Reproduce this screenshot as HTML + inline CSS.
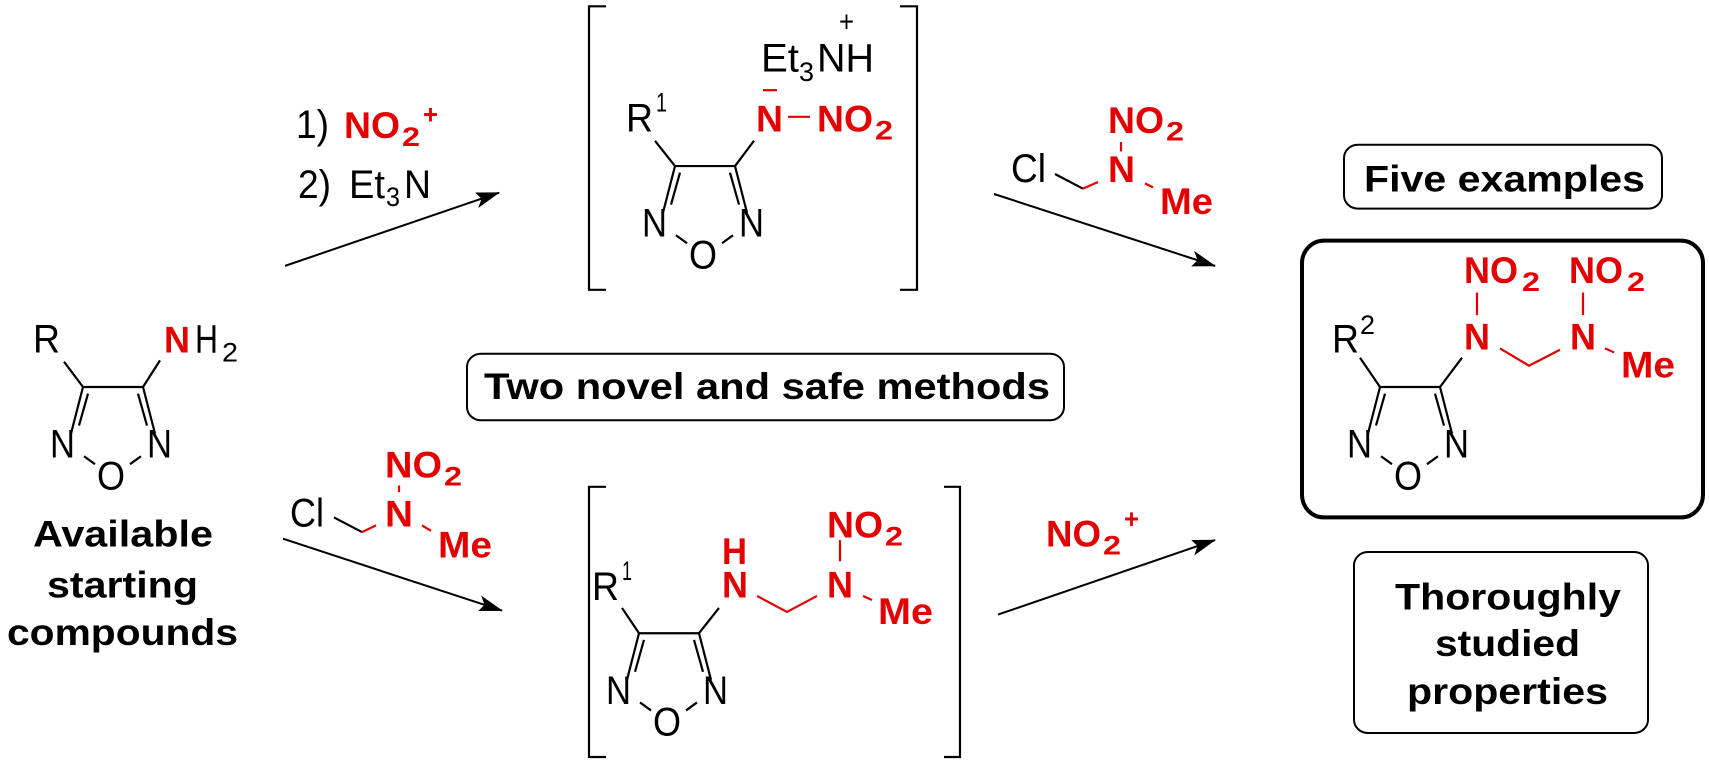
<!DOCTYPE html>
<html><head><style>
html,body{margin:0;padding:0;background:#fff;}
svg{display:block;font-family:"Liberation Sans",Arial,sans-serif;}
text{font-size:30px;fill:#000;}
.r{fill:#e30000;font-weight:bold;font-size:28px;}
.b{font-weight:bold;font-size:28px;}
.s{font-size:20px;}
.rs{fill:#e30000;font-weight:bold;font-size:20px;}
line,path,polyline,rect{stroke:#000;stroke-width:2.2;fill:none;vector-effect:non-scaling-stroke;}
.rl{stroke:#e30000;}
</style></head><body>
<svg width="1709" height="765" viewBox="0 0 1709 765">
<defs>
<marker id="ah" markerWidth="24" markerHeight="12" refX="23" refY="6" orient="auto" markerUnits="userSpaceOnUse" viewBox="0 0 24 12"><path d="M0,0 L24,6 L0,12 L5,6 Z" style="fill:#000;stroke:none"/></marker>
<g id="ring">
<line x1="0" y1="0" x2="60" y2="0"/>
<line x1="0" y1="0" x2="-12" y2="35"/><line x1="5" y1="5" x2="-4" y2="29"/>
<line x1="60" y1="0" x2="72" y2="35"/><line x1="55" y1="5" x2="64" y2="29"/>
<line x1="1" y1="52" x2="12" y2="58"/><line x1="47" y1="58" x2="58" y2="52"/>
</g>
</defs>
<g transform="translate(0,5) scale(1,1.331)">

<use href="#ring" x="83" y="287"/>
<text x="50" y="340" textLength="25" lengthAdjust="spacingAndGlyphs">N</text>
<text x="147" y="340" textLength="25" lengthAdjust="spacingAndGlyphs">N</text>
<text x="97" y="364" textLength="28" lengthAdjust="spacingAndGlyphs">O</text>
<text x="33" y="261" textLength="27" lengthAdjust="spacingAndGlyphs">R</text>
<line x1="64" y1="268" x2="83" y2="287"/>
<line x1="143" y1="287" x2="160" y2="267"/>
<text class="r" x="164" y="261" textLength="26" lengthAdjust="spacingAndGlyphs">N</text>
<text x="195" y="261" textLength="23" lengthAdjust="spacingAndGlyphs">H</text>
<text class="s" x="222" y="268" textLength="16" lengthAdjust="spacingAndGlyphs">2</text>
<text class="b" x="33" y="407" textLength="180" lengthAdjust="spacingAndGlyphs">Available</text>
<text class="b" x="47" y="445" textLength="151" lengthAdjust="spacingAndGlyphs">starting</text>
<text class="b" x="7" y="481" textLength="231" lengthAdjust="spacingAndGlyphs">compounds</text>

<line x1="285" y1="196" x2="499" y2="141" marker-end="url(#ah)" style="stroke-width:2"/>
<text x="296" y="100" textLength="33" lengthAdjust="spacingAndGlyphs">1)</text>
<text class="r" x="344" y="100" textLength="56" lengthAdjust="spacingAndGlyphs">NO</text>
<text class="rs" x="402" y="106" textLength="18" lengthAdjust="spacingAndGlyphs">2</text>
<text class="rs" x="423" y="89" textLength="15" lengthAdjust="spacingAndGlyphs">+</text>
<text x="298" y="145" textLength="33" lengthAdjust="spacingAndGlyphs">2)</text>
<text x="349" y="145" textLength="36" lengthAdjust="spacingAndGlyphs">Et</text>
<text class="s" x="386" y="151" textLength="14" lengthAdjust="spacingAndGlyphs">3</text>
<text x="404" y="145" textLength="27" lengthAdjust="spacingAndGlyphs">N</text>

<path d="M606,1 H589 V214 H606"/>
<path d="M900,1 H917 V214 H900"/>
<text x="761" y="50" textLength="38" lengthAdjust="spacingAndGlyphs">Et</text>
<text class="s" x="799" y="57" textLength="15" lengthAdjust="spacingAndGlyphs">3</text>
<text x="817" y="50" textLength="57" lengthAdjust="spacingAndGlyphs">NH</text>
<text x="839" y="20" style="font-size:22px" textLength="15" lengthAdjust="spacingAndGlyphs">+</text>
<text x="626" y="95" textLength="27" lengthAdjust="spacingAndGlyphs">R</text>
<text class="s" x="656" y="80" textLength="11" lengthAdjust="spacingAndGlyphs">1</text>
<line x1="655" y1="102" x2="675" y2="121"/>
<line x1="735" y1="121" x2="754" y2="102"/>
<use href="#ring" x="675" y="121"/>
<text x="642" y="174" textLength="25" lengthAdjust="spacingAndGlyphs">N</text>
<text x="739" y="174" textLength="25" lengthAdjust="spacingAndGlyphs">N</text>
<text x="689" y="198" textLength="28" lengthAdjust="spacingAndGlyphs">O</text>
<text class="r" x="756" y="95" textLength="27" lengthAdjust="spacingAndGlyphs">N</text>
<line class="rl" x1="763" y1="64" x2="777" y2="64"/>
<line class="rl" x1="788" y1="84" x2="810" y2="84"/>
<text class="r" x="817" y="95" textLength="56" lengthAdjust="spacingAndGlyphs">NO</text>
<text class="rs" x="875" y="101" textLength="18" lengthAdjust="spacingAndGlyphs">2</text>

<line x1="994" y1="142" x2="1215" y2="196" marker-end="url(#ah)" style="stroke-width:2"/>
<text x="1011" y="133" textLength="35" lengthAdjust="spacingAndGlyphs">Cl</text>
<line x1="1055" y1="127" x2="1083" y2="138"/>
<line class="rl" x1="1083" y1="138" x2="1098" y2="133"/>
<text class="r" x="1108" y="133" textLength="27" lengthAdjust="spacingAndGlyphs">N</text>
<line class="rl" x1="1121" y1="103" x2="1121" y2="110"/>
<text class="r" x="1108" y="96" textLength="56" lengthAdjust="spacingAndGlyphs">NO</text>
<text class="rs" x="1166" y="102" textLength="18" lengthAdjust="spacingAndGlyphs">2</text>
<line class="rl" x1="1145" y1="134" x2="1153" y2="137"/>
<text class="r" x="1160" y="157" textLength="53" lengthAdjust="spacingAndGlyphs">Me</text>

<rect x="1344" y="105" width="318" height="48" rx="14" ry="10" style="stroke-width:2"/>
<text class="b" x="1364" y="140" textLength="281" lengthAdjust="spacingAndGlyphs">Five examples</text>

<rect x="1302" y="177" width="401" height="208" rx="22" ry="17" style="stroke-width:4"/>
<text x="1332" y="261" textLength="27" lengthAdjust="spacingAndGlyphs">R</text>
<text class="s" x="1360" y="247" textLength="15" lengthAdjust="spacingAndGlyphs">2</text>
<line x1="1360" y1="265" x2="1380" y2="287"/>
<use href="#ring" x="1380" y="287"/>
<text x="1347" y="340" textLength="25" lengthAdjust="spacingAndGlyphs">N</text>
<text x="1444" y="340" textLength="25" lengthAdjust="spacingAndGlyphs">N</text>
<text x="1394" y="364" textLength="28" lengthAdjust="spacingAndGlyphs">O</text>
<line x1="1440" y1="287" x2="1462" y2="265"/>
<text class="r" x="1464" y="259" textLength="26" lengthAdjust="spacingAndGlyphs">N</text>
<line class="rl" x1="1477" y1="216" x2="1477" y2="233"/>
<text class="r" x="1464" y="209" textLength="54" lengthAdjust="spacingAndGlyphs">NO</text>
<text class="rs" x="1522" y="215" textLength="18" lengthAdjust="spacingAndGlyphs">2</text>
<polyline class="rl" points="1500,258 1529,271 1560,259"/>
<text class="r" x="1570" y="259" textLength="26" lengthAdjust="spacingAndGlyphs">N</text>
<line class="rl" x1="1583" y1="216" x2="1583" y2="233"/>
<text class="r" x="1569" y="209" textLength="54" lengthAdjust="spacingAndGlyphs">NO</text>
<text class="rs" x="1627" y="215" textLength="18" lengthAdjust="spacingAndGlyphs">2</text>
<line class="rl" x1="1605" y1="258" x2="1614" y2="261"/>
<text class="r" x="1621" y="280" textLength="54" lengthAdjust="spacingAndGlyphs">Me</text>

<rect x="467" y="262" width="597" height="50" rx="14" ry="10" style="stroke-width:2"/>
<text class="b" x="484" y="296" textLength="566" lengthAdjust="spacingAndGlyphs">Two novel and safe methods</text>

<rect x="1354" y="411" width="294" height="136" rx="14" ry="10" style="stroke-width:2"/>
<text class="b" x="1395" y="454" textLength="226" lengthAdjust="spacingAndGlyphs">Thoroughly</text>
<text class="b" x="1435" y="489" textLength="145" lengthAdjust="spacingAndGlyphs">studied</text>
<text class="b" x="1407" y="525" textLength="201" lengthAdjust="spacingAndGlyphs">properties</text>

<line x1="283" y1="401" x2="502" y2="455" marker-end="url(#ah)" style="stroke-width:2"/>
<text x="290" y="392" textLength="34" lengthAdjust="spacingAndGlyphs">Cl</text>
<line x1="334" y1="385" x2="362" y2="396"/>
<line class="rl" x1="362" y1="396" x2="376" y2="391"/>
<text class="r" x="385" y="392" textLength="28" lengthAdjust="spacingAndGlyphs">N</text>
<line class="rl" x1="399" y1="361" x2="399" y2="366"/>
<text class="r" x="385" y="355" textLength="57" lengthAdjust="spacingAndGlyphs">NO</text>
<text class="rs" x="444" y="361" textLength="18" lengthAdjust="spacingAndGlyphs">2</text>
<line class="rl" x1="422" y1="391" x2="431" y2="395"/>
<text class="r" x="438" y="415" textLength="54" lengthAdjust="spacingAndGlyphs">Me</text>

<path d="M606,362 H589 V565 H606"/>
<path d="M944,362 H960 V565 H944"/>
<text x="592" y="447" textLength="27" lengthAdjust="spacingAndGlyphs">R</text>
<text class="s" x="622" y="432" textLength="10" lengthAdjust="spacingAndGlyphs">1</text>
<line x1="622" y1="453" x2="639" y2="472"/>
<use href="#ring" x="639" y="472"/>
<text x="606" y="525" textLength="25" lengthAdjust="spacingAndGlyphs">N</text>
<text x="703" y="525" textLength="25" lengthAdjust="spacingAndGlyphs">N</text>
<text x="653" y="549" textLength="28" lengthAdjust="spacingAndGlyphs">O</text>
<line x1="699" y1="472" x2="719" y2="453"/>
<text class="r" x="722" y="420" textLength="25" lengthAdjust="spacingAndGlyphs">H</text>
<text class="r" x="722" y="445" textLength="26" lengthAdjust="spacingAndGlyphs">N</text>
<polyline class="rl" points="757,444 787,456 817,444"/>
<text class="r" x="827" y="445" textLength="26" lengthAdjust="spacingAndGlyphs">N</text>
<line class="rl" x1="840" y1="402" x2="840" y2="418"/>
<text class="r" x="827" y="400" textLength="56" lengthAdjust="spacingAndGlyphs">NO</text>
<text class="rs" x="885" y="406" textLength="18" lengthAdjust="spacingAndGlyphs">2</text>
<line class="rl" x1="863" y1="444" x2="872" y2="447"/>
<text class="r" x="878" y="465" textLength="55" lengthAdjust="spacingAndGlyphs">Me</text>

<line x1="998" y1="458" x2="1215" y2="402" marker-end="url(#ah)" style="stroke-width:2"/>
<text class="r" x="1046" y="407" textLength="55" lengthAdjust="spacingAndGlyphs">NO</text>
<text class="rs" x="1103" y="413" textLength="18" lengthAdjust="spacingAndGlyphs">2</text>
<text class="rs" x="1124" y="393" textLength="15" lengthAdjust="spacingAndGlyphs">+</text>
</g>
</svg>
</body></html>
